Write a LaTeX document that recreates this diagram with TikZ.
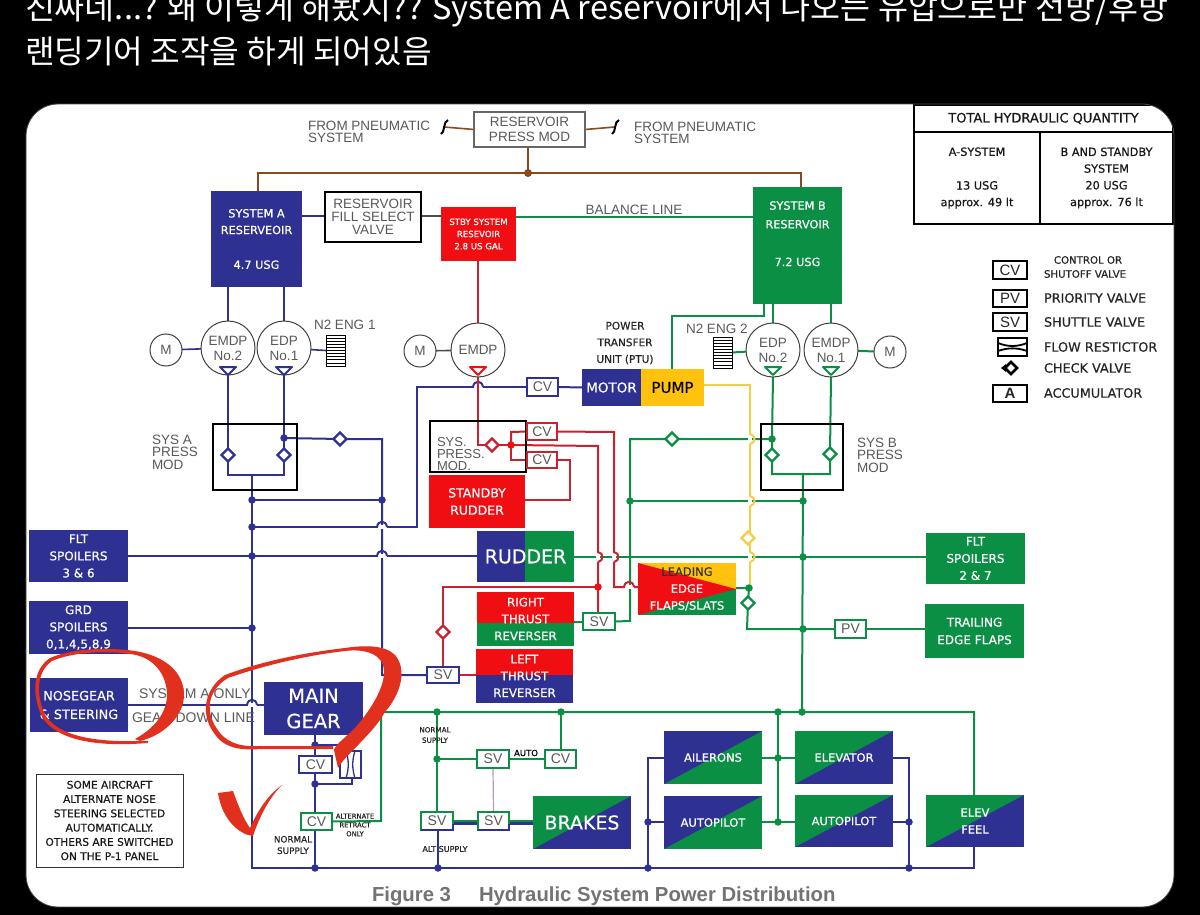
\documentclass[tikz,border=0pt]{standalone}
\usepackage{fontspec}
\setmainfont{Liberation Sans}
\newfontfamily\hand[RawFeature={embolden=0.5}]{DejaVu Sans}
\newfontfamily\krfont{Noto Sans CJK KR}
\usetikzlibrary{shapes.geometric,calc}
\definecolor{navy}{HTML}{2E3192}
\definecolor{grn}{HTML}{0B8F45}
\definecolor{sred}{HTML}{F00E12}
\definecolor{wred}{HTML}{C8232C}
\definecolor{amber}{HTML}{FFC20E}
\definecolor{ylw}{HTML}{F2CF45}
\definecolor{brn}{HTML}{8A4A1F}
\definecolor{ink}{HTML}{E1301E}
\definecolor{lbl}{HTML}{58595B}
\pgfdeclarelayer{top}
\pgfdeclarelayer{marks}
\pgfsetlayers{main,top,marks}
\newcommand{\hs}[1]{\hand\pgfmathsetmacro\hsl{#1*1.3}\fontsize{#1}{\hsl}\selectfont}
\newcommand{\fs}[2]{\fontsize{#1}{#2}\selectfont}
% named rectangle given by its corners
\newcommand{\fbx}[7]{%
  \pgfmathsetmacro\bxcx{(#2+#4)/2}\pgfmathsetmacro\bxcy{(#3+#5)/2}%
  \pgfmathsetmacro\bxw{#4-#2}\pgfmathsetmacro\bxh{#5-#3}%
  \node[#6,minimum width=\bxw pt,minimum height=\bxh pt] (#1) at (\bxcx,\bxcy) {#7};}
% box cut along its rising diagonal
\newcommand{\diagbox}[9]{%
  \fill[#7] (#2,#3) rectangle (#4,#5);
  \fill[#6] (#2,#3) -- (#4,#3) -- (#2,#5) -- cycle;
  \fbx{#1}{#2}{#3}{#4}{#5}{wtext,font=\hs{#8}}{#9}}
\newcommand{\jn}[4]{\node[dot,fill=#4] (#1) at (#2,#3) {};}
\newcommand{\chk}[4]{\node[checkv,draw=#4] (#1) at (#2,#3) {};}
\newcommand{\tip}[3]{\filldraw[draw=#3,fill=white,line width=2pt,line join=round] (#1-8,#2) -- (#1+8,#2) -- (#1,#2+8) -- cycle;}
\newcommand{\hoph}[3]{\fill[white] (#1-4.5,#2-1.6) rectangle (#1+4.5,#2+1.6);
  \draw[#3] (#1-5,#2) .. controls (#1-4,#2-7) and (#1+4,#2-7) .. (#1+5,#2);}
\newcommand{\hopv}[3]{\fill[white] (#1-1.6,#2-4.5) rectangle (#1+1.6,#2+4.5);
  \draw[#3] (#1,#2-5) .. controls (#1+6,#2-4) and (#1+6,#2+4) .. (#1,#2+5);}
\newcommand{\gridbox}[3]{%
  \fbx{#1}{#2}{#3}{#2+19}{#3+31}{draw=black,line width=1pt,fill=white}{}
  \foreach \k in {1,...,9} \draw[black,line width=.8pt] (#2,#3+\k*3.1) -- (#2+19,#3+\k*3.1);}
\tikzset{
  x=1pt,y=-1pt,
  every node/.style={inner sep=0pt,outer sep=0pt,align=center},
  bl/.style={navy,line width=2pt},
  gl/.style={grn,line width=2pt},
  rl/.style={wred,line width=2pt},
  yl/.style={ylw,line width=2pt},
  brl/.style={brn,line width=2pt},
  dot/.style={circle,minimum size=7.5pt},
  checkv/.style={diamond,fill=white,line width=2.2pt,minimum size=13pt},
  wtext/.style={text=white},
  bluebox/.style={fill=navy,text=white,font=\hs{12}},
  greenbox/.style={fill=grn,text=white,font=\hs{12}},
  redbox/.style={fill=sred,text=white,font=\hs{12}},
  valvebox/.style={fill=white,draw=#1,line width=2pt,text=lbl,font=\fs{14}{14}},
  circ/.style={circle,draw=black!75,line width=1pt,fill=white,text=lbl,font=\fs{13.5}{15}},
  graylabel/.style={text=lbl,font=\fs{13.5}{12.5},align=left,anchor=west},
  legtext/.style={font=\hs{12.8},anchor=west,text=black!85},
  smallnote/.style={font=\hs{8},text=black!85,align=center},
  tablecell/.style={fill=white,draw=black,line width=2pt,text=black!90,font=\hs{11.3}},
}
\begin{document}
\begin{tikzpicture}
\useasboundingbox (0,0) rectangle (1200,915);
\clip (0,0) rectangle (1200,915);
\fill[black] (0,0) rectangle (1200,915);
\fill[white,rounded corners=32pt] (26,104) rectangle (1174,907);

% heading above the panel
\node[anchor=base west,text=white,font={\krfont\fontsize{32.6}{36}\selectfont}] (hdra) at (25,20) {진짜네...? 왜 이렇게 해놨지?? System A reservoir에서 나오는 유압으로만 전방/후방};
\node[anchor=base west,text=white,font={\krfont\fontsize{32.2}{36}\selectfont}] (hdrb) at (25,64) {랜딩기어 조작을 하게 되어있음};

\begin{pgfonlayer}{top}
% reservoirs and valves along the top
\fbx{rpm}{474}{112}{585}{147}{fill=white,draw=black!60,line width=1.5pt,text=lbl,font=\fs{13.5}{15}}{RESERVOIR\\PRESS MOD}
\fbx{resA}{211}{191}{302}{287}{bluebox,font=\hs{11.3}}{SYSTEM A\\[2pt]RESERVEOIR\\[20pt]4.7 USG}
\fbx{fill}{325}{192}{421}{242}{fill=white,draw=black,line width=2pt,text=lbl,font=\fs{13.5}{13}}{RESERVOIR\\FILL SELECT\\VALVE}
\fbx{resS}{441}{207}{516}{261}{redbox,font=\hs{8.6}}{STBY SYSTEM\\[1pt]RESEVOIR\\[1pt]2.8 US GAL}
\fbx{resB}{753}{187}{842}{304}{greenbox,font=\hs{11.3}}{SYSTEM B\\[4pt]RESERVOIR\\[23pt]7.2 USG\\[9pt]~}

% pumps and motors
\node[circ,minimum size=54pt] (pa2) at (228,348) {EMDP\\No.2};
\node[circ,minimum size=54pt] (pa1) at (284,348) {EDP\\No.1};
\node[circ,minimum size=32pt] (ma) at (166,350) {M};
\node[circ,minimum size=54pt] (ps) at (478,350) {EMDP};
\node[circ,minimum size=32pt] (ms) at (420,351) {M};
\node[circ,minimum size=54pt] (pb2) at (773,350) {EDP\\No.2};
\node[circ,minimum size=54pt] (pb1) at (831,350) {EMDP\\No.1};
\node[circ,minimum size=32pt] (mb) at (890,352) {M};
\tip{228}{367}{navy}\tip{284}{367}{navy}\tip{478}{367}{sred}\tip{773}{367}{grn}\tip{831}{367}{grn}
\gridbox{na}{326}{335}
\gridbox{nb}{713}{337}
\node[text=lbl,font=\fs{13.5}{14},anchor=west] (n2a) at (314,325) {N2 ENG 1};
\node[text=lbl,font=\fs{13.5}{14},anchor=west] (n2b) at (686,329) {N2 ENG 2};

% power transfer unit
\node[font=\hs{10.5},text=black!85] (ptu) at (625,343) {POWER\\[3pt]TRANSFER\\[3pt]UNIT (PTU)};
\fbx{motor}{582}{369}{641}{406}{bluebox,font=\hs{13.5}}{MOTOR}
\fbx{pump}{641}{369}{704}{406}{fill=amber,text=black,font=\hs{15}}{PUMP}
\fbx{cvp}{527}{378}{558}{396}{valvebox=navy}{CV}

% pressure modules
\fbx{modA}{213}{424}{297}{490}{draw=black,line width=2pt}{}
\fbx{modS}{430}{421}{526}{472}{draw=black,line width=2pt}{}
\fbx{modB}{761}{424}{843}{490}{draw=black,line width=2pt}{}
\node[graylabel] (tA) at (152,452) {SYS A\\PRESS\\MOD};
\node[graylabel] (tB) at (857,455) {SYS B\\PRESS\\MOD};
\node[graylabel,font=\fs{13}{12}] (tS) at (437,454) {SYS.\\PRESS.\\MOD.};
\chk{vaL}{228}{455}{navy}\chk{vaR}{284}{455}{navy}\chk{vaT}{340}{439}{navy}
\chk{vbL}{772}{455}{grn}\chk{vbR}{830}{454}{grn}\chk{vbT}{672}{439}{grn}
\chk{vs}{492}{445}{wred}
\jn{jaT}{284}{438}{navy}\jn{jbT}{772}{439}{grn}\jn{jsC}{511}{445}{sred}
\fbx{cvs1}{527}{423}{557}{440}{valvebox=wred}{CV}
\fbx{cvs2}{527}{452}{557}{468}{valvebox=wred}{CV}

% consumers in the middle
\fbx{stdby}{429}{475}{525}{528}{redbox,font=\hs{12.5}}{STANDBY\\[1pt]RUDDER}
\fill[navy] (477,531) rectangle (525,582);
\fill[grn] (525,531) rectangle (574,582);
\fbx{rudder}{477}{531}{574}{582}{wtext,font=\hs{19}}{RUDDER}
\fill[sred] (477,592) rectangle (574,623);
\fill[grn] (477,623) rectangle (574,646);
\fbx{rtr}{477}{592}{574}{646}{wtext,font=\hs{11.8}}{RIGHT\\[1.5pt]THRUST\\[1.5pt]REVERSER}
\fill[sred] (476,649) rectangle (573,675);
\fill[navy] (476,675) rectangle (573,703);
\fbx{ltr}{476}{649}{573}{703}{wtext,font=\hs{11.8}}{LEFT\\[1.5pt]THRUST\\[1.5pt]REVERSER}
\fill[amber] (638,563) rectangle (736,589);
\fill[grn] (638,589) rectangle (736,615);
\fill[sred] (638,563) -- (736,589) -- (638,615) -- cycle;
\fbx{flaps}{638}{563}{736}{615}{wtext,font=\hs{11.5}}{{\color{black!80}LEADING}\\[2pt]EDGE\\[2pt]FLAPS/SLATS}
\fbx{svr}{583}{613}{615}{630}{valvebox=grn}{SV}
\fbx{svl}{427}{667}{459}{683}{valvebox=navy}{SV}
\chk{vl}{443}{632}{wred}
\chk{vy}{748}{538}{ylw}
\chk{vf}{748}{603}{grn}
\jn{jred}{598}{587}{sred}
\jn{jfl}{749}{588}{grn}

% system A side boxes
\fbx{fltA}{29}{530}{128}{582}{bluebox}{FLT\\[1.5pt]SPOILERS\\[1.5pt]3 \& 6}
\fbx{grdA}{29}{601}{128}{654}{bluebox}{GRD\\[1.5pt]SPOILERS\\[1.5pt]0,1,4,5,8,9}
\fbx{nose}{30}{678}{128}{732}{bluebox,font=\hs{12.8}}{NOSEGEAR\\[2pt]\& STEERING}
\fbx{main}{264}{682}{363}{735}{bluebox,font=\hs{19.5}}{MAIN\\[0pt]GEAR}
\node[text=lbl,font=\fs{14}{14},anchor=west] (tsys) at (139,694) {SYSTEM A ONLY};
\node[text=lbl,font=\fs{14}{14},anchor=west] (tgear) at (132,718) {GEAR DOWN LINE};
\fbx{cvm1}{299}{756}{332}{773}{valvebox=navy}{CV}
\fbx{cvm2}{301}{813}{332}{830}{valvebox=grn}{CV}
\fbx{rest}{340}{751}{361}{778}{fill=white,draw=navy,line width=1.8pt}{}
\draw[navy,line width=1.3pt] (346,751) .. controls (349,760) and (349,769) .. (346,778);
\draw[navy,line width=1.3pt] (355,751) .. controls (352,760) and (352,769) .. (355,778);
\node[smallnote,font=\hs{6.8}] (talt) at (355,825) {ALTERNATE\\RETRACT\\ONLY};
\node[font=\hs{8.8},text=black!85] (tnorm) at (293,845) {NORMAL\\SUPPLY};
\fbx{note}{36}{774}{183}{867}{fill=white,draw=black!80,line width=1pt,text=black!90,font=\hs{10.6}}{SOME AIRCRAFT\\[.5pt]ALTERNATE NOSE\\[.5pt]STEERING SELECTED\\[.5pt]AUTOMATICALLY.\\[.5pt]OTHERS ARE SWITCHED\\[.5pt]ON THE P-1 PANEL}

% system B side boxes
\fbx{fltB}{926}{533}{1025}{584}{greenbox}{FLT\\[1.5pt]SPOILERS\\[1.5pt]2 \& 7}
\fbx{trail}{925}{604}{1024}{658}{greenbox}{TRAILING\\[2pt]EDGE FLAPS}
\fbx{pv}{835}{620}{866}{638}{valvebox=grn}{PV}

% brakes and flight controls
\fbx{svau}{477}{750}{509}{768}{valvebox=grn}{SV}
\fbx{cvau}{545}{750}{576}{768}{valvebox=grn}{CV}
\fbx{svb1}{421}{812}{453}{830}{valvebox=grn}{SV}
\fbx{svb2}{478}{812}{509}{830}{valvebox=grn}{SV}
\draw[navy,line width=1.6pt] (421,830) -- (453,830) -- (453,824);
\draw[navy,line width=1.6pt] (478,830) -- (509,830) -- (509,824);
\node[font=\hs{8.5},text=black] (tauto) at (526,753) {AUTO};
\node[smallnote,font=\hs{7.2}] (tns) at (435,735) {NORMAL\\[1pt]SUPPLY};
\node[smallnote,font=\hs{8}] (talts) at (445,849) {ALT SUPPLY};
\diagbox{brakes}{533}{796}{631}{849}{grn}{navy}{19}{BRAKES}
\diagbox{ail}{664}{731}{762}{784}{navy}{grn}{11.5}{AILERONS}
\diagbox{apl}{664}{796}{762}{849}{navy}{grn}{11.5}{AUTOPILOT}
\diagbox{elev}{795}{731}{893}{784}{grn}{navy}{11.5}{ELEVATOR}
\diagbox{apr}{795}{795}{893}{847}{grn}{navy}{11.5}{AUTOPILOT}
\diagbox{feel}{926}{795}{1024}{847}{grn}{navy}{11.5}{ELEV\\[2pt]FEEL}

% junctions
\foreach \n/\x/\y in {jA1/252/500,jA2/252/527,jA3/252/556,jA4/252/628,jA5/382/500,
  jm1/315/745,jm2/315/784,jb1/315/868,jb2/438/868,jb3/648/868,jb4/909/868,
  ja1/648/822,ja2/909/822}
  {\jn{\n}{\x}{\y}{navy}}
\foreach \n/\x/\y in {jG1/630/501,jG2/803/501,jG3/803/557,jG4/803/629,
  jt1/437/712,jt2/561/712,jt3/778/712,jt4/802/712,jt5/437/759,jt6/778/758,jt7/778/822}
  {\jn{\n}{\x}{\y}{grn}}

% quantity table
\fbx{thead}{914}{105}{1173}{132}{tablecell,font=\hs{13}}{TOTAL HYDRAULIC QUANTITY}
\fbx{tqa}{914}{132}{1040}{224}{tablecell}{A-SYSTEM\\[19pt]13 USG\\[2pt]approx. 49 lt}
\fbx{tqb}{1040}{132}{1173}{224}{tablecell}{B AND STANDBY\\[2pt]SYSTEM\\[2pt]20 USG\\[2pt]approx. 76 lt}

% legend
\tikzset{legbox/.style={fill=white,draw=black,line width=2pt,font=\fs{15}{15},text=black!85}}
\fbx{lcv}{993}{261}{1027}{279}{legbox}{CV}
\fbx{lpv}{993}{290}{1027}{307}{legbox}{PV}
\fbx{lsv}{993}{313}{1027}{331}{legbox}{SV}
\fbx{lfr}{998}{338}{1027}{356}{fill=white,draw=black,line width=1.8pt}{}
\draw[black,line width=1.8pt] (998,343) .. controls (1008,347) and (1017,347) .. (1027,343);
\draw[black,line width=1.8pt] (998,351) .. controls (1008,347.5) and (1017,347.5) .. (1027,351);
\node[diamond,draw=black,line width=2.5pt,fill=white,minimum size=12pt] (lck) at (1011,368) {};
\fill[black] (1001,368) -- (1006,364) -- (1006,372) -- cycle;
\fbx{lac}{993}{385}{1027}{402}{legbox}{\textbf{A}}
\node[legtext,anchor=center,font=\hs{10.2}] (t1) at (1088,260) {CONTROL OR};
\node[legtext,font=\hs{10.2}] (t2) at (1044,274) {SHUTOFF VALVE};
\node[legtext] (t3) at (1044,298) {PRIORITY VALVE};
\node[legtext] (t4) at (1044,322) {SHUTTLE VALVE};
\node[legtext] (t5) at (1044,347) {FLOW RESTICTOR};
\node[legtext] (t6) at (1044,368) {CHECK VALVE};
\node[legtext] (t7) at (1044,393) {ACCUMULATOR};

% free text on the sheet
\node[graylabel] (fpl) at (308,132) {FROM PNEUMATIC\\SYSTEM};
\node[graylabel] (fpr) at (634,133) {FROM PNEUMATIC\\SYSTEM};
\node[text=lbl,font=\fs{13.5}{13},anchor=center] (bal) at (634,210) {BALANCE LINE};
\node[text=black!55,font=\bfseries\fs{20.3}{22},anchor=west] (cap1) at (372,896) {Figure 3};
\node[text=black!55,font=\bfseries\fs{20.3}{22},anchor=west] (cap2) at (479,896) {Hydraulic System Power Distribution};
\end{pgfonlayer}

% brown pneumatic lines
\coordinate (sqL) at (444,127);
\coordinate (sqR) at (615,127);
\coordinate (jbr) at (528,173);
\draw[brn,line width=1.6pt] (sqL) -- (rpm.west);
\draw[brn,line width=1.6pt] (rpm.east) -- (sqR);
\draw[black,line width=2pt] (441,134) .. controls (445,133) and (443,121) .. (448,120);
\draw[black,line width=2pt] (612,134) .. controls (616,133) and (614,121) .. (619,120);
\draw[brl] (jbr |- rpm.south) -- (jbr);
\draw[brl] (resA.north -| 258,0) -- (258,173) -- (801,173) -- (801,187);
\fill[brn] (jbr) circle (4pt);

% balance line and fill line
\draw[bl] (resA.east |- 0,216) -- (fill.west |- 0,216);
\draw[black!70,line width=1.6pt] (fill.east |- 0,216) -- (resS.west |- 0,216);
\draw[gl] (resS.east |- 0,217) -- (resB.west |- 0,217);

% supply to the pumps
\draw[bl] (pa2.north |- resA.south) -- (pa2.north);
\draw[bl] (pa1.north |- resA.south) -- (pa1.north);
\draw[rl,line width=2.4pt] (ps.north |- resS.south) -- (ps.north);
\draw[gl] (pb2.north |- resB.south) -- (pb2.north);
\draw[gl] (pb1.north |- resB.south) -- (pb1.north);
\draw[gl] (764,304) -- (764,316) -- (672,316) -- (pump.north -| 672,0);
\draw[bl,line width=1.6pt] (ma) -- (pa2);
\draw[bl,line width=1.6pt] (na.west) -- (pa1);
\draw[black!70,line width=1.6pt] (ms) -- (ps);
\draw[gl] (pb2) -- (nb.east);
\draw[gl] (pb1) -- (mb);

% system A pressure module and bus
\draw[bl] (pa2.south) -- (vaL.center) -- (228,475) -- (284,475) -- (vaR.center) -- (jaT.center) -- (pa1.south);
\draw[bl] (252,475) -- (252,868) -- (jb1.center);
\draw[bl] (jaT.center) -- (vaT.center) -- (382,439) -- (382,675) -- (svl.west);
\draw[bl] (jA1.center) -- (jA5.center);
\draw[bl] (jA2.center) -- (417,527) -- (417,387) -- (cvp.west);
\draw[bl] (cvp.east) -- (motor.west);
\draw[bl] (fltA.east |- 0,556) -- (rudder.west |- 0,556);
\draw[bl] (grdA.east |- jA4) -- (jA4.center);
\draw[bl] (nose.east |- 0,705) -- (main.west |- 0,705);
\hoph{382}{527}{bl}
\hoph{382}{556}{bl}
\hoph{252}{705}{bl}
\hoph{478}{387}{bl}

% main gear branch
\draw[bl] (main.south -| 315,0) -- (cvm1.north -| 315,0);
\draw[bl] (cvm1.south -| 315,0) -- (cvm2.north -| 315,0);
\draw[bl] (cvm2.south -| 315,0) -- (jb1.center);
\draw[bl,line width=1.7pt] (jm1.center) -- (352,745) -- (rest.north -| 352,0);
\draw[bl,line width=1.7pt] (rest.south -| 352,0) -- (352,784) -- (jm2.center);

% lower return bus
\draw[bl] (jb1.center) -- (974,868) -- (feel.south -| 974,0);
\draw[bl] (svb1.south -| 438,0) -- (jb2.center);
\draw[bl] (jb3.center) -- (648,758) -- (ail.west |- 0,758);
\draw[bl] (ja1.center) -- (apl.west |- ja1);
\draw[bl] (jb4.center) -- (909,758) -- (elev.east |- 0,758);
\draw[bl] (ja2.center) -- (apr.east |- ja2);

% standby system
\draw[rl] (ps.south) -- (478,445) -- (vs.center) -- (jsC.center);
\draw[rl] (jsC.center) -- (511,432) -- (cvs1.west);
\draw[rl] (jsC.center) -- (511,460) -- (cvs2.west);
\draw[rl] (cvs2.east) -- (570,460) -- (570,500) -- (stdby.east |- 0,500);
\draw[rl] (cvs1.east) -- (614,432) -- (614,587) -- (flaps.west |- 0,587);
\draw[rl] (jsC.center) -- (598,446) -- (jred.center) -- (svr.north -| 598,0);
\draw[rl] (jred.center) -- (443,587) -- (vl.center) -- (svl.north -| 443,0);
\draw[rl] (svl.east) -- (ltr.west |- svl.east);

% system B pressure module and bus
\draw[gl] (pb2.south) -- (jbT.center) -- (vbL.center) -- (772,474) -- (830,474) -- (vbR.center) -- (pb1.south);
\draw[gl] (803,474) -- (jt4.center);
\draw[gl] (jbT.center) -- (vbT.center) -- (630,439) -- (630,621) -- (svr.east);
\draw[gl] (jG1.center) -- (jG2.center);
\draw[gl] (rudder.east |- jG3) -- (fltB.west |- jG3);
\draw[gl] (rtr.east |- 0,622) -- (svr.west |- 0,622);
\draw[gl] (vf.center) -- (747,629) -- (pv.west |- 0,629);
\draw[gl] (pv.east) -- (trail.west |- pv.east);
\draw[gl] (flaps.east |- jfl) -- (jfl.center) -- (vf.center);

% PTU supply
\draw[yl] (pump.east |- 0,385) -- (750,385) -- (750,587);
\hopv{750}{439}{yl}
\hopv{750}{501}{yl}
\hopv{750}{557}{yl}
\hopv{614}{557}{rl}
\hopv{598}{557}{rl}
\hoph{629}{587}{rl}

% upper green bus and flight controls
\draw[gl] (cvm2.east) -- (381,821) -- (381,712) -- (974,712) -- (feel.north -| 974,0);
\draw[gl] (jt1.center) -- (svb1.north -| 437,0);
\draw[gl] (jt2.center) -- (cvau.north -| 561,0);
\draw[gl] (jt5.center) -- (svau.west |- jt5);
\draw[gl] (svau.east) -- (cvau.west);
\draw[gl] (jt3.center) -- (jt7.center);
\draw[gl] (ail.east |- jt6) -- (elev.west |- jt6);
\draw[gl] (apl.east |- jt7) -- (apr.west |- jt7);
\draw[black!35!violet!40,line width=1.2pt] (svau.south) -- (svb2.north);
\draw[navy,line width=3pt] (svb1.east |- 0,823) -- (svb2.west |- 0,823);
\draw[navy,line width=3pt] (svb2.east |- 0,823) -- (brakes.west |- 0,823);
\draw[grn,line width=1.2pt] (svb1.east |- 0,821) -- (svb2.west |- 0,821);
\draw[grn,line width=1.2pt] (svb2.east |- 0,821) -- (brakes.west |- 0,821);

\begin{pgfonlayer}{marks}
% hand-drawn red marks
\fill[ink] (148,743) .. controls (110,746) and (60,745) .. (42,717) .. controls (32,695) and (32,670) .. (50,658) .. controls (75,647) and (115,648) .. (135,651) .. controls (165,656) and (184,672) .. (184,695) .. controls (184,715) and (165,735) .. (140,741) -- (135,739) .. controls (155,728) and (168,712) .. (167,692) .. controls (165,670) and (150,656) .. (130,654) .. controls (110,651) and (75,651) .. (52,661) .. controls (36,672) and (36,695) .. (45,715) .. controls (62,741) and (110,742) .. (148,741) -- cycle;
\fill[ink] (338,768) .. controls (345,755) and (372,735) .. (385,712) .. controls (400,695) and (408,670) .. (395,655) .. controls (385,645) and (365,645) .. (345,648) .. controls (310,652) and (265,660) .. (225,675) .. controls (205,688) and (198,715) .. (217,737) .. controls (228,750) and (245,750) .. (262,749) -- (333,749) -- (333,746) -- (262,746) .. controls (245,747) and (230,745) .. (220,733) .. controls (203,712) and (208,690) .. (228,678) .. controls (268,664) and (310,655) .. (345,651) .. controls (362,649) and (378,652) .. (383,665) .. controls (388,680) and (375,705) .. (355,728) .. controls (345,738) and (335,745) .. (334,750) -- cycle;
\fill[ink] (218,793) -- (233,791) .. controls (238,805) and (244,820) .. (250,828) .. controls (258,810) and (268,795) .. (282,785) .. controls (270,797) and (260,815) .. (253,836) .. controls (240,835) and (222,820) .. (218,793) -- cycle;
% dark surround trims the sheet's rounded corners
\fill[black,even odd rule,rounded corners=32pt] (26,104) rectangle (1174,907) [sharp corners] (0,90) rectangle (1200,915);
\draw[black!70,line width=.8pt,rounded corners=32pt] (26,104) rectangle (1174,907);
\end{pgfonlayer}
\end{tikzpicture}
\end{document}
